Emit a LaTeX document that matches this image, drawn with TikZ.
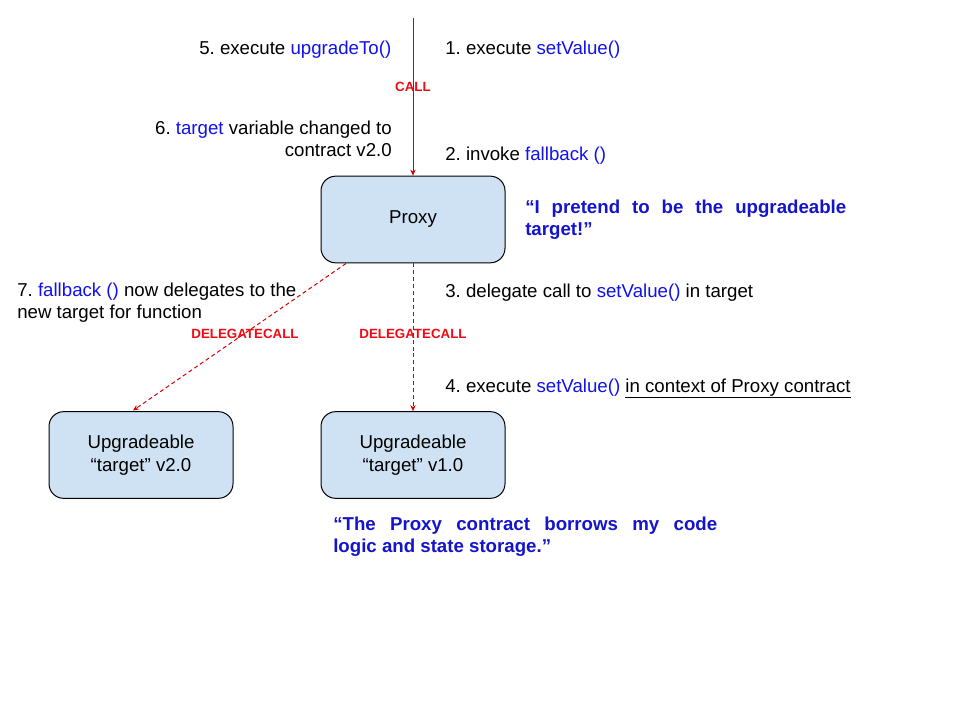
\documentclass[tikz,border=0pt]{standalone}
\usepackage{fontspec}
\setmainfont{Liberation Sans}
\usetikzlibrary{arrows.meta}
\definecolor{fnblue}{RGB}{17,17,240}
\definecolor{qblue}{RGB}{20,20,205}
\definecolor{lred}{RGB}{215,0,0}
\definecolor{tred}{RGB}{240,10,20}
\definecolor{boxfill}{RGB}{207,226,243}
\frenchspacing
\newcommand{\nohyph}{\lefthyphenmin=64\relax\tolerance=9999\relax}
\begin{document}
\begin{tikzpicture}[x=0.75pt,y=-0.75pt,
  box/.style={draw=black,line width=0.75pt,fill=boxfill,rounded corners=11pt,
    minimum width=138pt,minimum height=65pt,inner sep=0pt,align=center,
    font=\fontsize{14}{16.8}\selectfont},
  txt/.style={inner sep=0pt,anchor=base west,font=\fontsize{14}{16.5}\selectfont},
  rtxt/.style={inner sep=0pt,anchor=base east,align=right,font=\fontsize{14}{16.5}\selectfont},
  quote/.style={inner sep=0pt,anchor=base west,align=justify,text=qblue,
    font=\bfseries\fontsize{14}{16.5}\selectfont},
  clabel/.style={inner sep=0pt,anchor=base,text=tred,font=\bfseries\fontsize{10}{12}\selectfont},
  callarrow/.style={draw=lred,line width=0.75pt,-{Stealth[length=4.5pt,width=4pt]}},
  dcarrow/.style={callarrow,dash pattern=on 3pt off 2.2pt}
]
\useasboundingbox (0,0) rectangle (960,720);
\fill[white] (0,0) rectangle (960,720);
\newcommand{\fn}[1]{\textcolor{fnblue}{#1}}

\node[box] (proxy) at (413,219.5) {Proxy};
\node[box] (v2) at (141,455) {Upgradeable\\“target” v2.0};
\node[box] (v1) at (413,455) {Upgradeable\\“target” v1.0};

\coordinate (top) at (413,18);
\coordinate (dstart) at (346,263.5);

\draw[callarrow] (top) -- (proxy.north);
\draw[dcarrow] (proxy.south) -- (v1.north);
\draw[dcarrow] (dstart) -- (133,410.5);

\node[clabel] (call) at (413,92) {CALL};
\node[clabel] (dc1) at (245,339) {DELEGATECALL};
\node[clabel] (dc2) at (413,339) {DELEGATECALL};

\node[rtxt] (t5) at (391.5,55) {5. execute \fn{upgradeTo()}};
\node[txt] (t1) at (445,55) {1. execute \fn{setValue()}};
\node[rtxt] (t6) at (392,157) {6. \fn{target} variable changed to\\contract v2.0};
\node[txt] (t2) at (445,161) {2. invoke \fn{fallback ()}};
\node[quote,text width=240.75pt] (q1) at (525,214) {\nohyph “I pretend to be the upgradeable\linebreak target!”};
\node[txt,align=left] (t7) at (17,318) {7. \fn{fallback ()} now delegates to the\\new target for function};
\node[txt] (t3) at (445,297) {3. delegate call to \fn{setValue()} in target};
\node[txt] (t4) at (445,392) {4. execute \fn{setValue()} \underline{in context of Proxy contract}};
\node[quote,text width=288pt] (q2) at (333,530) {\nohyph “The Proxy contract borrows my code\linebreak logic and state storage.”};
\end{tikzpicture}
\end{document}
